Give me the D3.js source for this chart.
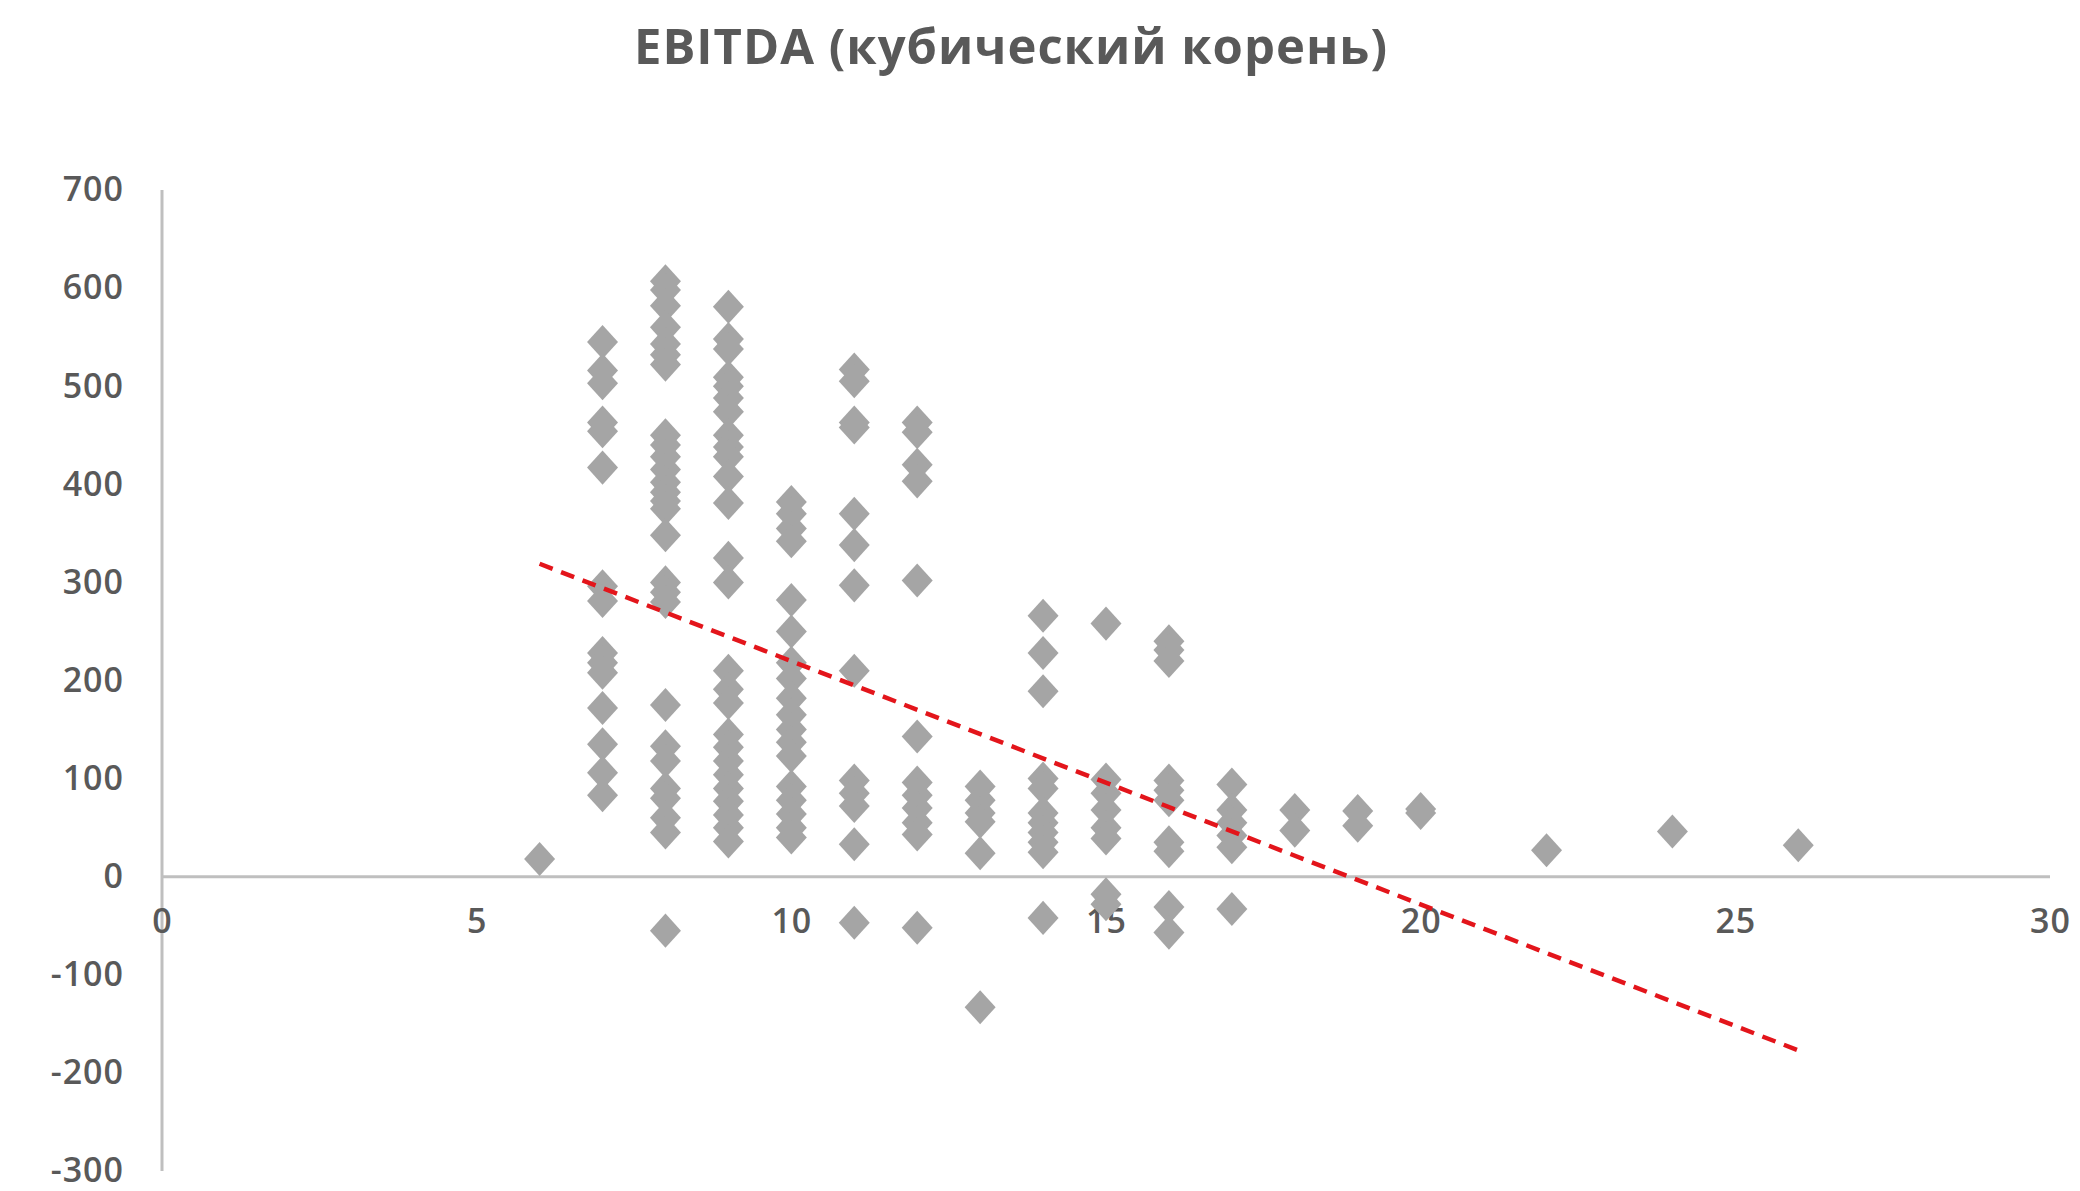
<!DOCTYPE html>
<html>
<head>
<meta charset="utf-8">
<script src="https://cdn.jsdelivr.net/npm/d3@7"></script>
<style>
  body { margin: 0; background: #fff; }
  svg { display: block; font-family: "Open Sans", sans-serif; }
</style>
</head>
<body>
<div id="chart"></div>
<script>
// chart title
var title = "EBITDA (кубический корень)";

// x value of each column of points
var colX = [6, 7, 8, 9, 10, 11, 12, 13, 14, 15, 16, 17, 18, 19, 20, 22, 24, 26];

// y values in each column
var colY = [
  [18],
  [545, 516, 503, 463, 454, 417, 296, 281, 228, 218, 208, 172, 135, 106, 83],
  [607, 598, 582, 560, 543, 532, 522, 450, 440, 428, 415, 402, 392, 383, 375, 348, 300, 290, 280, 175, 133, 118, 90, 80, 60, 45, -55],
  [581, 548, 538, 509, 500, 488, 474, 450, 438, 428, 408, 381, 325, 300, 210, 191, 177, 145, 132, 118, 104, 90, 77, 63, 50, 36],
  [382, 370, 355, 342, 282, 250, 218, 202, 182, 165, 150, 137, 123, 92, 78, 64, 50, 40],
  [517, 505, 463, 458, 370, 338, 297, 210, 98, 85, 72, 33, -47],
  [463, 453, 420, 403, 302, 143, 96, 83, 70, 55, 43, -52],
  [92, 78, 65, 56, 24, -133],
  [266, 228, 189, 100, 90, 65, 55, 45, 35, 25, -42],
  [258, 99, 85, 68, 50, 39, -18, -28],
  [240, 231, 220, 98, 88, 78, 35, 26, -31, -57],
  [94, 68, 55, 42, 30, -33],
  [68, 47],
  [67, 52],
  [69, 65],
  [27],
  [46],
  [32]
];

// linear trend line ends
var trendX = [6, 26];
var trendY = [319, -177];

// ticks
var xTicks = [0, 5, 10, 15, 20, 25, 30];
var yTicks = [700, 600, 500, 400, 300, 200, 100, 0, -100, -200, -300];

var svgWidth = 2080;
var svgHeight = 1191;

var svg = d3.select("#chart")
  .append("svg")
  .attr("width", svgWidth)
  .attr("height", svgHeight);

// scales
var x = d3.scaleLinear().domain([0, 30]).range([162, 2050]);
var y = d3.scaleLinear().domain([-300, 700]).range([1171, 190]);

// flatten columns into points
var points = [];
colX.forEach(function(cx, i) {
  colY[i].forEach(function(v) {
    points.push({ x: cx, y: v });
  });
});

// title
svg.append("text")
  .attr("x", 1011)
  .attr("y", 64)
  .attr("text-anchor", "middle")
  .attr("font-size", 49)
  .attr("font-weight", 700)
  .attr("letter-spacing", 1)
  .attr("fill", "#595959")
  .text(title);

// axes lines
svg.append("line")
  .attr("x1", x(0)).attr("x2", x(0))
  .attr("y1", y(700)).attr("y2", y(-300))
  .attr("stroke", "#bfbfbf")
  .attr("stroke-width", 3);

svg.append("line")
  .attr("x1", x(0)).attr("x2", x(30))
  .attr("y1", y(0)).attr("y2", y(0))
  .attr("stroke", "#bfbfbf")
  .attr("stroke-width", 3);

// y tick labels (plain hyphen for negatives, like the original)
var yAxis = d3.axisLeft(y).tickValues(yTicks).tickSize(0).tickPadding(38)
  .tickFormat(d => String(d));
var gy = svg.append("g")
  .attr("transform", `translate(${x(0)},0)`)
  .call(yAxis);
gy.select(".domain").remove();
gy.selectAll("text")
  .attr("font-family", "Open Sans")
  .attr("font-size", 34)
  .attr("font-weight", 600)
  .attr("letter-spacing", 1)
  .attr("fill", "#595959");

// x tick labels, sitting just under the zero line
var xAxis = d3.axisBottom(x).tickValues(xTicks).tickSize(0).tickPadding(32)
  .tickFormat(d => String(d));
var gx = svg.append("g")
  .attr("transform", `translate(0,${y(0)})`)
  .call(xAxis);
gx.select(".domain").remove();
gx.selectAll("text")
  .attr("font-family", "Open Sans")
  .attr("font-size", 34)
  .attr("font-weight", 600)
  .attr("letter-spacing", 1)
  .attr("fill", "#595959");

// diamonds
var diamond = d3.symbol().type(d3.symbolSquare).size(480);
svg.append("g")
  .selectAll("path")
  .data(points)
  .enter()
  .append("path")
  .attr("d", diamond)
  .attr("transform", d => `translate(${x(d.x)},${y(d.y)}) scale(1,1.1) rotate(45)`)
  .attr("fill", "#a5a5a5");

// trend line
svg.append("line")
  .attr("x1", x(trendX[0])).attr("y1", y(trendY[0]))
  .attr("x2", x(trendX[1])).attr("y2", y(trendY[1]))
  .attr("stroke", "#e3151b")
  .attr("stroke-width", 4.5)
  .attr("stroke-dasharray", "14,9");
</script>
</body>
</html>
